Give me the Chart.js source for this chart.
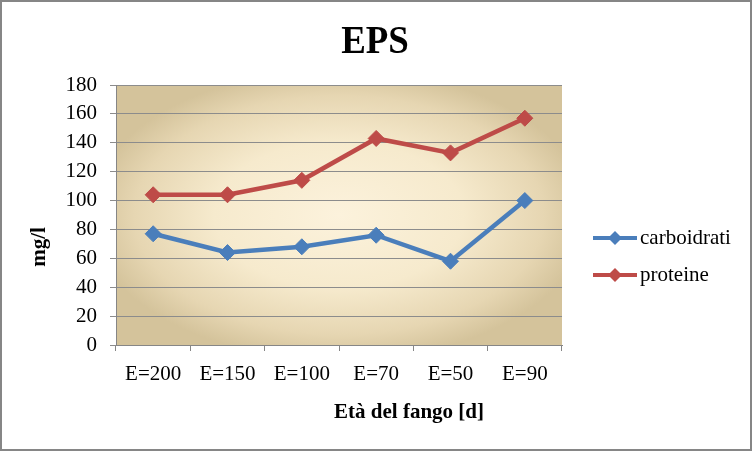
<!DOCTYPE html>
<html>
<head>
<meta charset="utf-8">
<script src="https://cdn.jsdelivr.net/npm/chart.js@4/dist/chart.umd.min.js"></script>
<style>
  body { margin: 0; background: #fff; }
  #wrap { width: 752px; height: 451px; }
</style>
</head>
<body>
<div id="wrap"><canvas id="epsChart" width="752" height="451"></canvas></div>
<script>
// ==== DATA ====
const categories = ["E=200", "E=150", "E=100", "E=70", "E=50", "E=90"];
const carboidrati = [77, 64, 68, 76, 58, 100];
const proteine = [104, 104, 114, 143, 133, 157];
const yTicks = [0, 20, 40, 60, 80, 100, 120, 140, 160, 180];

const chartTitle = "EPS";
const xTitle = "Età del fango [d]";
const yTitle = "mg/l";

const SERIF = "'Liberation Serif', 'Times New Roman', serif";

// background, plot gradient, titles, legend
const decorPlugin = {
  id: "decor",
  beforeDraw(chart) {
    const ctx = chart.ctx;
    const a = chart.chartArea;
    ctx.save();
    ctx.fillStyle = "#ffffff";
    ctx.fillRect(0, 0, chart.width, chart.height);

    // plot area gradient (light center, tan edges)
    const cx = (a.left + a.right) / 2;
    const cy = (a.top + a.bottom) / 2;
    ctx.translate(cx, cy);
    ctx.scale((a.right - a.left) / 2, (a.bottom - a.top) / 2);
    const g = ctx.createRadialGradient(0, 0, 0, 0, 0, 1.12);
    g.addColorStop(0, "#fcf2dc");
    g.addColorStop(0.5, "#f6eacd");
    g.addColorStop(0.82, "#e6d6b2");
    g.addColorStop(1, "#d4c39b");
    ctx.fillStyle = g;
    ctx.fillRect(-1, -1, 2, 2);
    ctx.restore();
  },
  afterDraw(chart) {
    const ctx = chart.ctx;
    const a = chart.chartArea;
    ctx.save();

    // title
    ctx.fillStyle = "#000";
    ctx.textAlign = "center";
    ctx.textBaseline = "alphabetic";
    ctx.translate(375, 53);
    ctx.scale(0.9, 1);
    ctx.font = "bold 41px " + SERIF;
    ctx.fillText(chartTitle, 0, 0);
    ctx.setTransform(1, 0, 0, 1, 0, 0);

    // x axis title
    ctx.font = "bold 21px " + SERIF;
    ctx.textBaseline = "middle";
    ctx.fillText(xTitle, a.left + (a.right - a.left) * 0.657, 413);

    // y axis title
    ctx.save();
    ctx.translate(40, 247);
    ctx.rotate(-Math.PI / 2);
    ctx.fillText(yTitle, 0, 0);
    ctx.restore();

    // legend
    const rows = [238, 275];
    chart.data.datasets.forEach((ds, i) => {
      const y = rows[i];
      ctx.strokeStyle = ds.borderColor;
      ctx.lineWidth = 4;
      ctx.beginPath();
      ctx.moveTo(593, y);
      ctx.lineTo(637, y);
      ctx.stroke();
      ctx.fillStyle = ds.borderColor;
      ctx.beginPath();
      ctx.moveTo(615, y - 7);
      ctx.lineTo(622, y);
      ctx.lineTo(615, y + 7);
      ctx.lineTo(608, y);
      ctx.closePath();
      ctx.fill();
      ctx.fillStyle = "#000";
      ctx.textAlign = "left";
      ctx.font = "21px " + SERIF;
      ctx.fillText(ds.label, 640, y);
    });

    // outer border
    ctx.strokeStyle = "#868686";
    ctx.lineWidth = 2;
    ctx.strokeRect(1, 1, chart.width - 2, chart.height - 2);
    ctx.restore();
  }
};

new Chart(document.getElementById("epsChart"), {
  type: "line",
  data: {
    labels: categories,
    datasets: [
      {
        label: "carboidrati",
        data: carboidrati,
        borderColor: "#4a7ebb",
        backgroundColor: "#4a7ebb",
        borderWidth: 4.5,
        pointStyle: "rectRot",
        pointRadius: 8,
        pointBorderWidth: 1,
        tension: 0,
        fill: false
      },
      {
        label: "proteine",
        data: proteine,
        borderColor: "#be4b48",
        backgroundColor: "#be4b48",
        borderWidth: 4.5,
        pointStyle: "rectRot",
        pointRadius: 8,
        pointBorderWidth: 1,
        tension: 0,
        fill: false
      }
    ]
  },
  options: {
    responsive: false,
    animation: false,
    devicePixelRatio: 1,
    layout: { padding: { top: 85, right: 190, bottom: 67, left: 0 } },
    plugins: {
      legend: { display: false },
      title: { display: false },
      tooltip: { enabled: false }
    },
    scales: {
      x: {
        offset: true,
        grid: {
          offset: true,
          drawOnChartArea: false,
          drawTicks: true,
          tickLength: 6,
          color: "#868686"
        },
        border: { color: "#868686", width: 1 },
        ticks: {
          padding: 11,
          color: "#000",
          font: { family: SERIF, size: 21 }
        },
        afterFit(scale) { scale.height = 39; }
      },
      y: {
        min: 0,
        max: 180,
        afterBuildTicks(scale) { scale.ticks = yTicks.map(v => ({ value: v })); },
        grid: {
          color: "#8c8c8c",
          lineWidth: 1,
          tickLength: 6
        },
        border: { color: "#868686", width: 1 },
        ticks: {
          padding: 13,
          color: "#000",
          font: { family: SERIF, size: 21 }
        },
        afterFit(scale) { scale.width = 116; }
      }
    }
  },
  plugins: [decorPlugin]
});
</script>
</body>
</html>
